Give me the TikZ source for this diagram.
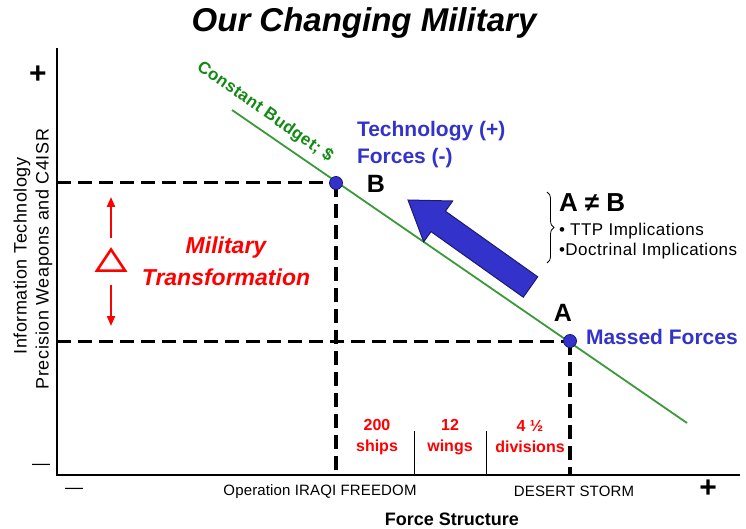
\documentclass[tikz,border=0pt]{standalone}
\usepackage{fontspec}
\setmainfont{Liberation Sans}
\usetikzlibrary{decorations.pathreplacing,arrows.meta}
\definecolor{myblue}{HTML}{3333CC}
\definecolor{navy}{HTML}{1A1A70}
\definecolor{linegreen}{HTML}{3A9A3A}
\definecolor{textgreen}{HTML}{138A13}
\definecolor{myred}{HTML}{FF0000}
\begin{document}
\begin{tikzpicture}[x=1pt,y=-1pt,
  axis/.style={line width=1.5pt, black},
  guide/.style={line width=3pt, black, dash pattern=on 14pt off 7pt},
  vguide/.style={guide, line width=3.6pt},
  budget/.style={line width=1.8pt, linegreen},
  dot/.style={circle, fill=myblue, draw=navy, line width=0.8pt, minimum size=13pt, inner sep=0pt},
  redarrow/.style={-{Triangle[length=10pt,width=8pt]}, line width=2pt, myred},
  sep/.style={line width=1pt, black},
  lbl/.style={inner sep=0pt, outer sep=0pt},
]
\useasboundingbox (0,0) rectangle (746,529);

% title
\node[lbl, font=\fontsize{33}{36}\selectfont\bfseries\itshape] (title) at (364,23) {Our Changing Military};

% axes
\coordinate (Ytop) at (57,48);
\coordinate (O) at (57,475);
\coordinate (Xend) at (740,475);
\draw[axis] (Ytop) -- (O) -- (Xend);

\node[lbl, font=\fontsize{30}{32}\selectfont\bfseries] (plusY) at (38,75) {+};
\node[lbl, font=\fontsize{30}{32}\selectfont\bfseries] (plusX) at (708,489) {+};
\node[lbl, font=\fontsize{18}{20}\selectfont] (minusY) at (41,467) {—};
\node[lbl, font=\fontsize{18}{20}\selectfont] (minusX) at (74,491) {—};

\node[lbl, rotate=90, font=\fontsize{18}{20}\selectfont\addfontfeature{LetterSpace=3}] (ylab1) at (22,256) {Information Technology};
\node[lbl, rotate=90, font=\fontsize{18}{20}\selectfont\addfontfeature{LetterSpace=3}] (ylab2) at (44,259) {Precision Weapons and C4ISR};

% guide points
\coordinate (pB) at (336,183);
\coordinate (pA) at (570,341);
\coordinate (yB) at (57,183);
\coordinate (yA) at (57,341);
\coordinate (xB) at (336,475);
\coordinate (xA) at (570,475);
\draw[guide] (yB) -- (pB);
\draw[guide] (yA) -- (pA);
\draw[vguide] (pB) -- (xB);
\draw[vguide] (pA) -- (xA);

% separators
\coordinate (s1t) at (414,431); \coordinate (s1b) at (414,475);
\coordinate (s2t) at (486,431); \coordinate (s2b) at (486,475);
\draw[sep] (s1t) -- (s1b);
\draw[sep] (s2t) -- (s2b);

% budget line
\coordinate (L1) at (232,110);
\coordinate (L2) at (687,423);
\draw[budget] (L1) -- (L2);
\node[lbl, rotate=-35, text=textgreen, font=\fontsize{17}{19}\selectfont\bfseries\addfontfeature{LetterSpace=2}] (budget) at (265,112) {Constant Budget; \$};

% points
\node[dot] (B) at (pB) {};
\node[dot] (A) at (pA) {};
\node[lbl, font=\fontsize{25}{27}\selectfont\bfseries] (Blab) at (376,184) {B};
\node[lbl, font=\fontsize{25}{27}\selectfont\bfseries] (Alab) at (563,313) {A};

\node[lbl, anchor=west, align=left, text=myblue, font=\fontsize{21}{27}\selectfont\bfseries] (tech) at (357,145) {Technology (+)\\Forces (-)};
\node[lbl, anchor=west, text=myblue, font=\fontsize{21}{23}\selectfont\bfseries] (massed) at (586,337) {Massed Forces};

% big blue arrow
\fill[myblue, draw=navy, line width=1pt, line join=miter]
  (408,200) -- (452.7,201.0) -- (445.4,211.2) -- (537.7,276.8)
  -- (523.3,297.2) -- (431.0,231.6) -- (423.7,241.8) -- cycle;

% A != B
\coordinate (brT) at (547,192);
\coordinate (brB) at (547,263);
\draw[line width=0.8pt, decorate, decoration={brace, amplitude=7pt}] (brT) -- (brB);
\node[lbl, anchor=west, font=\fontsize{26}{28}\selectfont\bfseries] (neq) at (559,203) {A ≠ B};
\node[lbl, anchor=west, font=\fontsize{17}{19}\selectfont\addfontfeature{LetterSpace=3}] (ttp) at (559,231) {\textbullet\ TTP Implications};
\node[lbl, anchor=west, font=\fontsize{17}{19}\selectfont\addfontfeature{LetterSpace=3}] (doc) at (559,251) {\textbullet Doctrinal Implications};

% delta and red arrows
\node[lbl, minimum width=28pt, minimum height=21pt] (delta) at (111,260) {};
\draw[myred, line width=2.5pt, line join=miter] (delta.south west) -- (delta.north) -- (delta.south east) -- cycle;
\coordinate (upT) at (111,238); \coordinate (upH) at (111,197);
\coordinate (dnT) at (111,285); \coordinate (dnH) at (111,326);
\draw[redarrow] (upT) -- (upH);
\draw[redarrow] (dnT) -- (dnH);
\node[lbl, align=center, text=myred, font=\fontsize{23}{32}\selectfont\bfseries\itshape] (mt) at (226,261) {Military\\Transformation};

% bottom
\node[lbl, align=center, text=myred, font=\fontsize{16}{21}\selectfont\bfseries] (ships) at (377,437) {200\\ships};
\node[lbl, align=center, text=myred, font=\fontsize{16}{21}\selectfont\bfseries] (wings) at (450,437) {12\\wings};
\node[lbl, align=center, text=myred, font=\fontsize{16}{21}\selectfont\bfseries] (divs) at (530,437) {4 ½\\divisions};

\node[lbl, font=\fontsize{15}{17}\selectfont\addfontfeature{LetterSpace=1}] (oif) at (320,492) {Operation IRAQI FREEDOM};
\node[lbl, font=\fontsize{15}{17}\selectfont\addfontfeature{LetterSpace=1}] (ds) at (574,491) {DESERT STORM};
\node[lbl, font=\fontsize{18}{20}\selectfont\bfseries] (fs) at (452,519) {Force Structure};
\end{tikzpicture}
\end{document}
